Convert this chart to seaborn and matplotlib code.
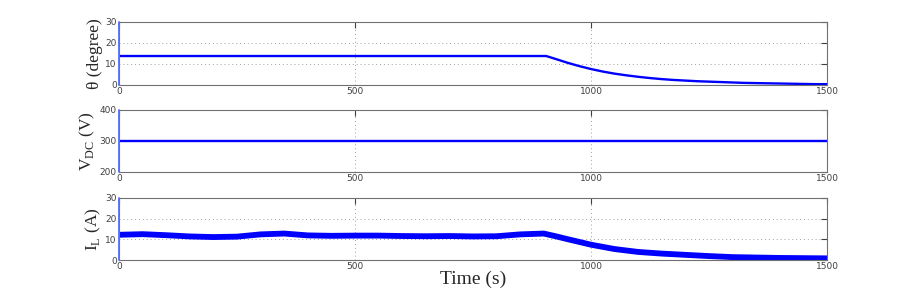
import matplotlib
matplotlib.use("Agg")
import matplotlib.pyplot as plt
import seaborn as sns

# start-up transients at t = 0 (vertical spikes at the left edge)
spike_time = [0, 0]
theta_spike = [0, 30]
vdc_spike = [200, 400]
il_spike = [0, 30]

# theta (degree): flat, then decay after ~905 s
theta_time = [0, 905, 925, 950, 975, 1000, 1025, 1050, 1075, 1100, 1125, 1150,
              1175, 1200, 1225, 1250, 1275, 1300, 1325, 1350, 1375, 1400, 1425, 1450,
              1475, 1500]
theta_deg = [13.8, 13.8, 12.4, 10.6, 9.0, 7.6, 6.4, 5.4, 4.6, 3.9, 3.3, 2.8,
             2.4, 2.1, 1.8, 1.6, 1.4, 1.2, 1.0, 0.9, 0.8, 0.7, 0.6, 0.5, 0.4, 0.4]

# DC link voltage (V)
vdc_time = [0, 1500]
vdc_volt = [300, 300]

# inductor current (A)
il_time = [0, 50, 100, 150, 200, 250, 300, 350, 400, 450, 500, 550, 600, 650,
           700, 750, 800, 850, 900, 925, 950, 1000, 1050, 1100, 1150, 1200, 1250,
           1300, 1350, 1400, 1450, 1500]
il_amp = [12.2, 12.5, 12.0, 11.4, 11.1, 11.3, 12.4, 12.8, 11.9, 11.7, 11.8,
          11.8, 11.6, 11.5, 11.6, 11.4, 11.5, 12.4, 12.8, 11.5, 10.1, 7.4, 5.3, 3.9,
          3.1, 2.5, 1.9, 1.4, 1.2, 1.0, 0.9, 0.8]

x_ticks = [0, 500, 1000, 1500]

sns.set_style("white")
plt.rcParams["font.family"] = ["DejaVu Sans"]
plt.rcParams["mathtext.fontset"] = "custom"
plt.rcParams["mathtext.rm"] = "Liberation Serif"

fig = plt.figure(figsize=(9.13, 2.94), dpi=100)
left, width = 0.1303, 0.7755
ax1 = fig.add_axes([left, 0.7109, width, 0.2143])
ax2 = fig.add_axes([left, 0.415, width, 0.211])
ax3 = fig.add_axes([left, 0.1156, width, 0.211])

serif = {"family": "Liberation Serif", "size": 12.5}
spike_kw = dict(estimator=None, sort=False, color="#5070ff", linewidth=1.3,
                zorder=3, clip_on=False)

sns.lineplot(x=spike_time, y=theta_spike, ax=ax1, **spike_kw)
sns.lineplot(x=theta_time, y=theta_deg, ax=ax1, estimator=None, sort=False,
             color="blue", linewidth=1.7)
ax1.set_ylim(0, 30)
ax1.set_yticks([0, 10, 20, 30])
ax1.set_ylabel("\u03b8 (degree)", fontdict=serif, labelpad=2)

sns.lineplot(x=spike_time, y=vdc_spike, ax=ax2, **spike_kw)
sns.lineplot(x=vdc_time, y=vdc_volt, ax=ax2, estimator=None, sort=False,
             color="blue", linewidth=1.7)
ax2.set_ylim(200, 400)
ax2.set_yticks([200, 300, 400])
ax2.set_ylabel(r"V$_{\mathregular{DC}}$ (V)", fontdict=serif, labelpad=2)

sns.lineplot(x=spike_time, y=il_spike, ax=ax3, **spike_kw)
sns.lineplot(x=il_time, y=il_amp, ax=ax3, estimator=None, sort=False,
             color="blue", linewidth=4.2)
ax3.set_ylim(0, 30)
ax3.set_yticks([0, 10, 20, 30])
ax3.set_ylabel(r"I$_{\mathregular{L}}$ (A)", fontdict=serif, labelpad=2)
ax3.set_xlabel("Time (s)", fontdict={"family": "Liberation Serif", "size": 14},
               labelpad=0)

for ax in (ax1, ax2, ax3):
    ax.set_xlim(0, 1500)
    ax.set_xticks(x_ticks)
    ax.grid(True, linestyle=(0, (1, 3)), color="#a0a0a0", linewidth=0.7)
    ax.tick_params(direction="in", length=4, width=0.8, labelsize=6.5, pad=1.5,
                   top=True, right=True, colors="#404040")
    for s in ax.spines.values():
        s.set_color("#707070")
        s.set_linewidth(0.8)
    if ax is not ax3:
        ax.set_xlabel("")

fig.savefig("out.png", dpi=100)
